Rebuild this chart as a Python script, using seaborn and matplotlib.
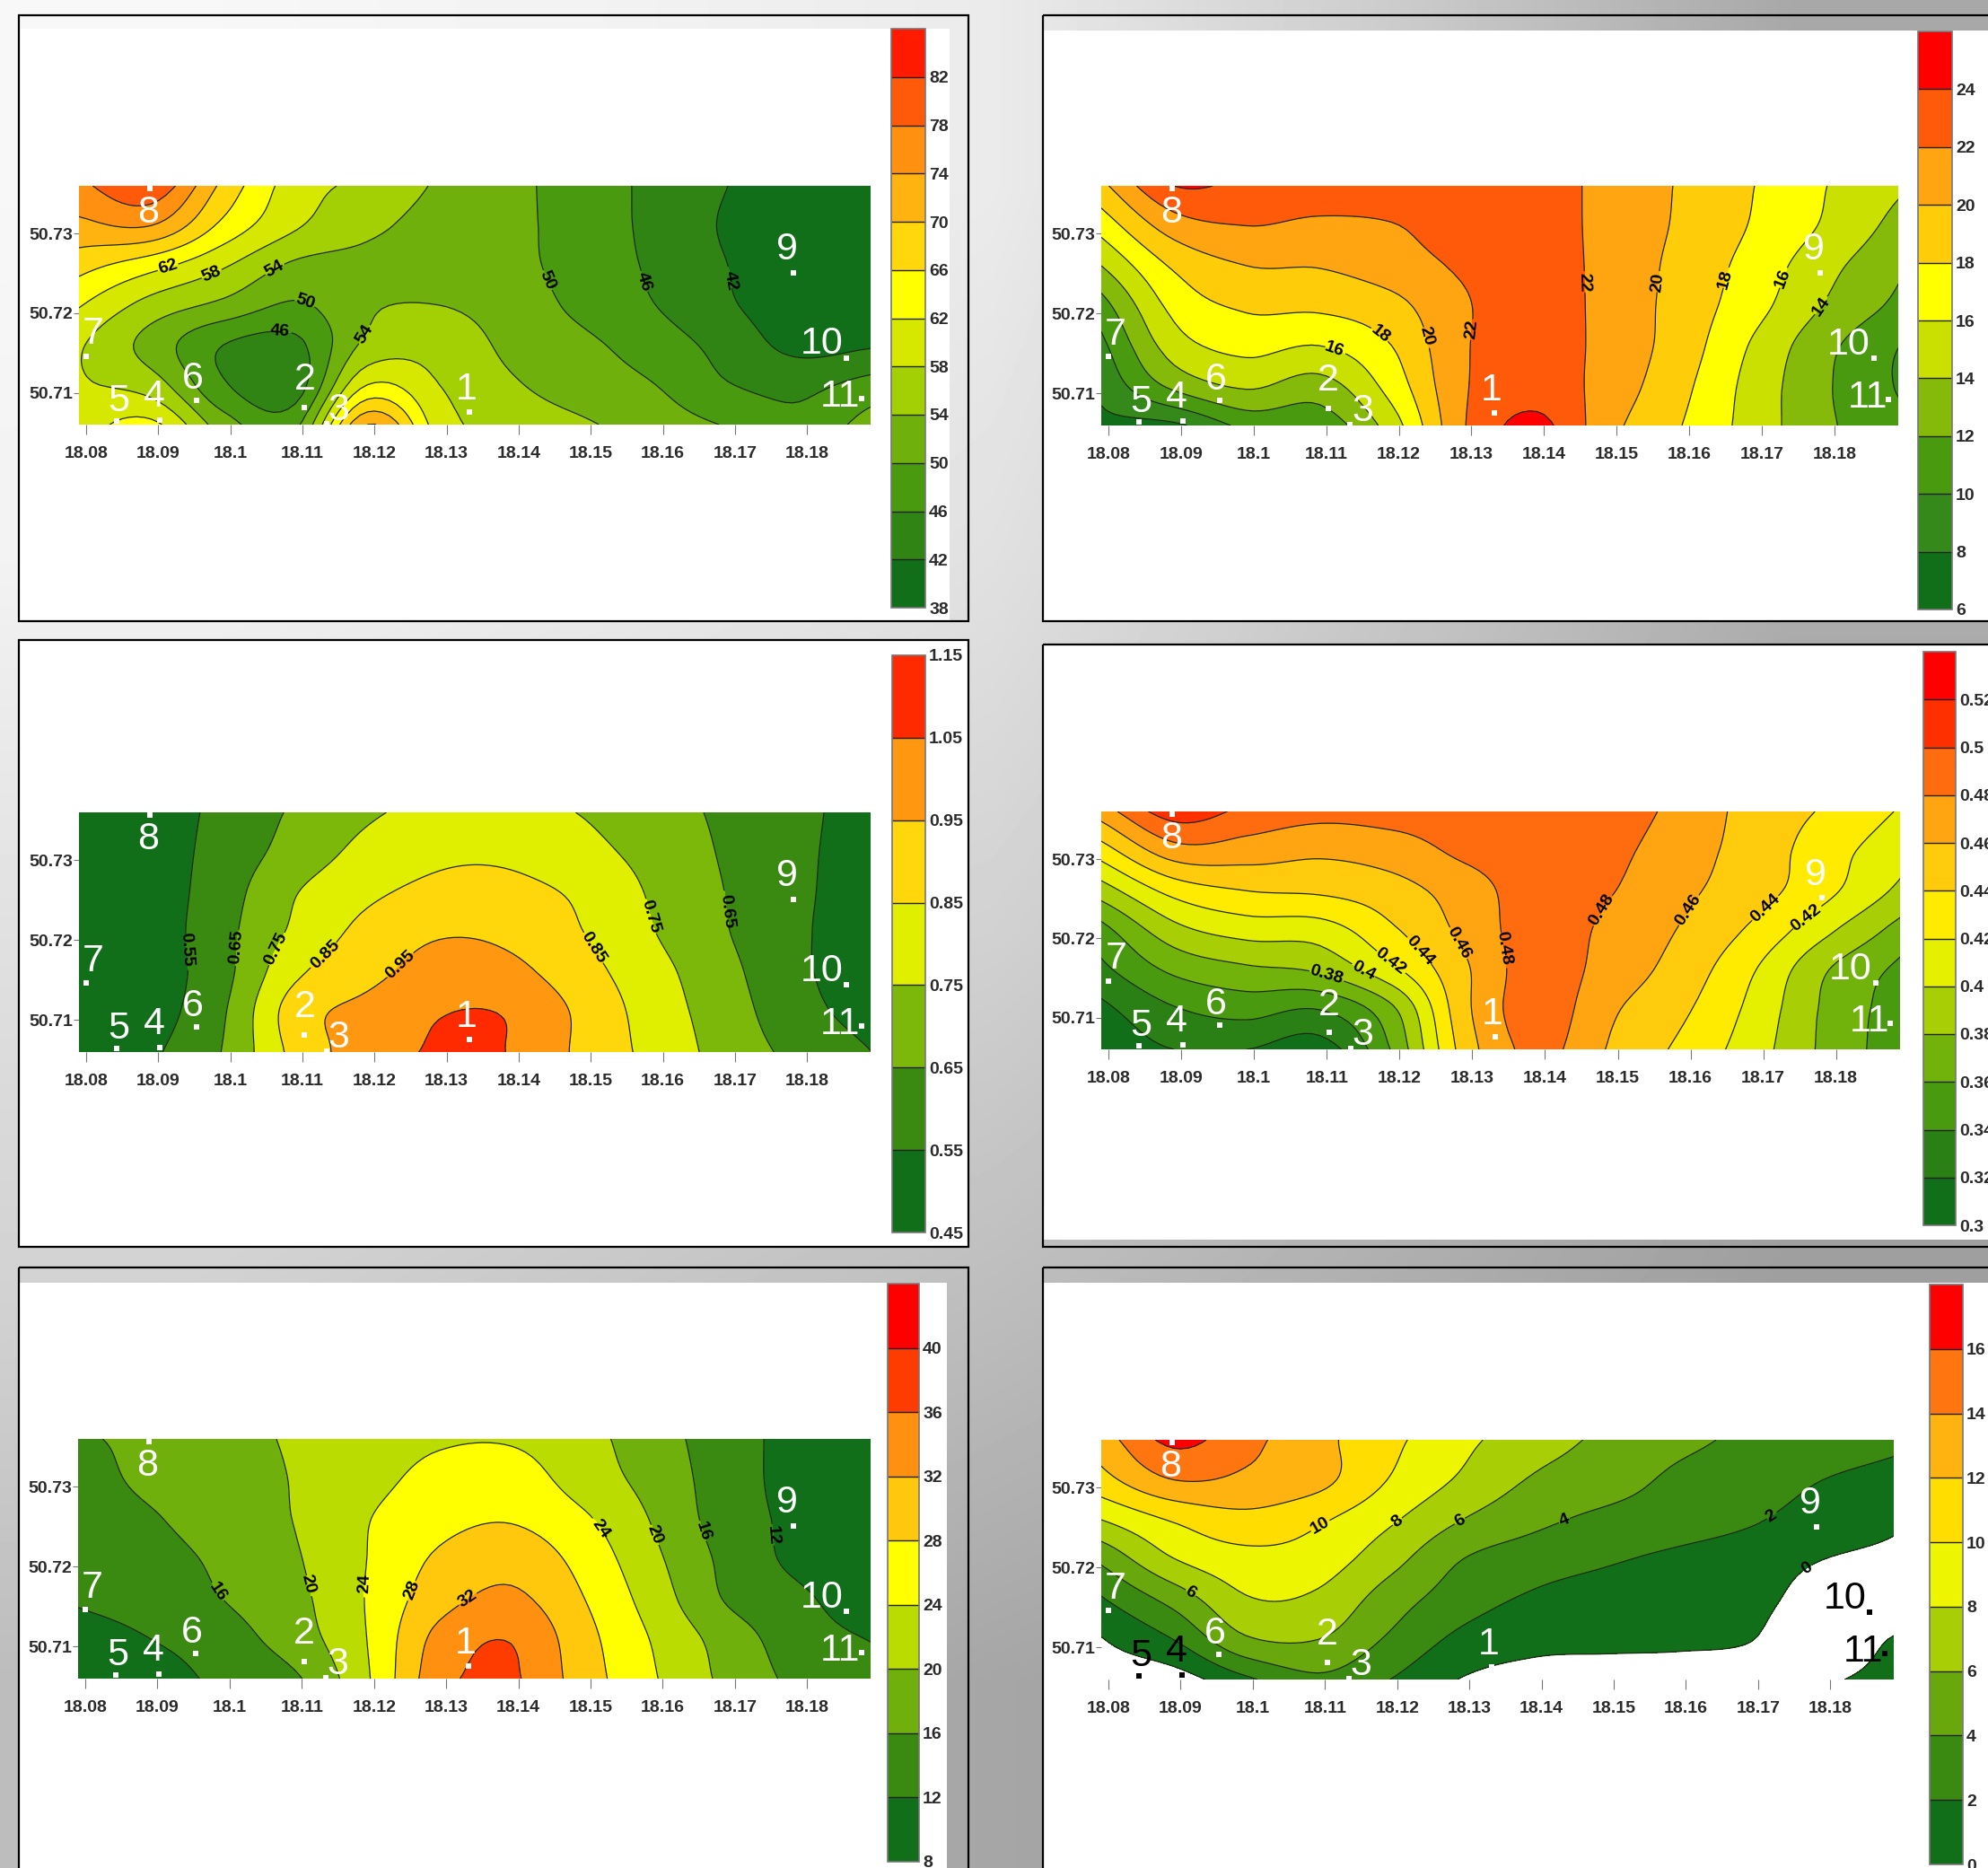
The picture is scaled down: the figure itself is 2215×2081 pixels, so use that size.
import numpy as np
import matplotlib
matplotlib.use('Agg')
import matplotlib.pyplot as plt
from matplotlib.patches import Rectangle
import seaborn as sns

W, H = 2215, 2081

# --- data ---
LON = [18.079, 18.089, 18.099, 18.109, 18.119, 18.129, 18.139, 18.149, 18.159, 18.169, 18.179, 18.189]
LAT_TOP_DOWN = [50.736, 50.731, 50.726, 50.721, 50.716, 50.711, 50.706]

LEVELS_A = [38, 42, 46, 50, 54, 58, 62, 66, 70, 74, 78, 82, 86]
COLORS_A = ['#116f1a', '#2f8414', '#4a9a10', '#6fb00c', '#a3cf05', '#d6e800', '#ffff00', '#ffd70a', '#ffb310',
            '#ff9010', '#ff5a0a', '#ff1a00']
VALUES_A = [
    [77, 81, 69, 60, 57, 53.5, 51, 48, 45, 42, 39.5, 39],
    [73, 74, 65, 58.5, 55, 52.5, 51, 48, 45, 41.5, 39, 38.5],
    [67.5, 63.5, 58.5, 53.3, 52.8, 52, 51, 48.3, 45.3, 42, 39, 38.5],
    [62.3, 56.5, 53, 49.5, 53.5, 54, 52, 49, 46, 42.5, 39.5, 38.5],
    [58.5, 52.5, 46, 45, 55, 56.5, 53, 50.8, 48, 44.5, 40.8, 41.6],
    [58.5, 56, 46.5, 44, 62, 58, 54.5, 52, 50, 46.2, 45, 47.5],
    [60, 63, 52, 49, 74, 60, 56.5, 54.5, 52, 49.7, 47, 52],
]
LEVELS_B = [6, 8, 10, 12, 14, 16, 18, 20, 22, 24, 26]
COLORS_B = ['#116f1a', '#35881a', '#4a9a10', '#85ba0a', '#cae000', '#ffff00', '#ffcc0a', '#ffa512', '#ff5a0a',
            '#ff0000']
VALUES_B = [
    [19.5, 24, 23.5, 23.3, 23.2, 23, 23, 21.3, 19.8, 18, 16, 14.3],
    [16.8, 21, 22, 21.6, 21.9, 23, 23, 21.3, 19.7, 17.8, 15.7, 13.3],
    [14, 18.3, 20, 20.1, 21, 22.3, 23, 21.3, 19.4, 17.2, 14.6, 12.3],
    [11.2, 16.6, 18.3, 18.4, 19.4, 21.8, 23, 21.3, 19.2, 16.7, 13.8, 11.5],
    [9.5, 15, 16.6, 16, 18, 21.8, 23, 21.3, 19, 15.7, 12.5, 10],
    [8.5, 12.5, 14.3, 13.2, 16.8, 21.8, 23.2, 21.1, 18.5, 15.2, 12.2, 9.8],
    [7.5, 7.6, 10.5, 10.7, 15, 21.9, 24.5, 20.6, 18, 15.1, 12.3, 10.6],
]
LEVELS_C = [0.45, 0.55, 0.65, 0.75, 0.85, 0.95, 1.05, 1.15]
COLORS_C = ['#116f1a', '#3a8a12', '#7cb80a', '#e0ef00', '#ffd70a', '#ff9810', '#ff2a00']
VALUES_C = [
    [.47, .50, .577, .663, .735, .78, .78, .745, .689, .63, .57, .51],
    [.47, .50, .59, .69, .78, .83, .83, .78, .713, .637, .566, .51],
    [.47, .50, .606, .745, .83, .875, .875, .83, .734, .646, .564, .51],
    [.47, .50, .62, .77, .88, .94, .925, .85, .75, .653, .561, .51],
    [.47, .50, .62, .83, .92, .99, .975, .885, .781, .676, .564, .51],
    [.47, .51, .64, .90, .98, 1.045, 1.04, .925, .80, .695, .582, .515],
    [.47, .535, .655, .88, 1.0, 1.06, 1.045, .925, .816, .709, .62, .55],
]
LEVELS_D = [0.30, 0.32, 0.34, 0.36, 0.38, 0.40, 0.42, 0.44, 0.46, 0.48, 0.50, 0.52, 0.54]
COLORS_D = ['#116f1a', '#2a8014', '#4a9a10', '#72b30b', '#a8cf05', '#e5f000', '#ffeb00', '#ffcb0c', '#ffa512',
            '#ff6c10', '#ff3000', '#ff0000']
VALUES_D = [
    [.47, .51, .495, .487, .489, .49, .49, .49, .473, .452, .437, .418],
    [.43, .471, .47, .464, .47, .484, .49, .485, .468, .451, .428, .407],
    [.39, .427, .44, .443, .452, .47, .49, .481, .464, .448, .424, .395],
    [.353, .393, .408, .41, .437, .465, .49, .475, .458, .435, .403, .372],
    [.335, .364, .376, .383, .415, .457, .49, .471, .451, .42, .38, .355],
    [.315, .338, .347, .34, .376, .455, .49, .463, .443, .413, .375, .35],
    [.305, .32, .32, .31, .362, .449, .485, .458, .435, .408, .374, .348],
]
LEVELS_E = [8, 12, 16, 20, 24, 28, 32, 36, 40, 44]
COLORS_E = ['#116f1a', '#3a8a12', '#6fb00c', '#bbdc00', '#ffff00', '#ffc80c', '#ff9010', '#ff3c00', '#ff0000']
VALUES_E = [
    [15.5, 17, 18.8, 20.4, 22, 23.5, 23.6, 21.3, 17.6, 13.8, 10.5, 9],
    [14, 17, 18.4, 20.2, 22.7, 25.2, 25.8, 22.2, 18.4, 13.9, 10.5, 9],
    [12.8, 15.5, 18.2, 20.1, 23.8, 26.7, 27.7, 24.6, 19.5, 14, 11, 9],
    [12.5, 14.2, 16.9, 19.6, 24, 28.6, 30.5, 26.6, 20.7, 14.9, 11, 9.2],
    [12.3, 13.5, 16, 18.9, 24.2, 30.4, 32.8, 28.1, 22, 15.6, 12.7, 9.5],
    [10.5, 12, 14.3, 18, 24, 33.2, 35.8, 29.4, 23.5, 18.2, 13.8, 11.8],
    [9.5, 10, 13, 15.4, 23.5, 34.5, 36.5, 30, 24.2, 19, 15, 13.5],
]
LEVELS_F = [0, 2, 4, 6, 8, 10, 12, 14, 16, 18]
COLORS_F = ['#116f1a', '#3a8a12', '#68a80c', '#a8cf05', '#eef500', '#ffdd00', '#ffb310', '#ff7510', '#ff0000']
VALUES_F = [
    [13, 16.5, 14.6, 12.6, 10.5, 8.5, 6.9, 5.6, 4.5, 3.6, 3, 2.4],
    [11.3, 14, 13.6, 12.6, 9.9, 7.7, 5.8, 4.9, 3.6, 3, 2, 1.4],
    [8, 10.2, 11.4, 10.3, 8.3, 6, 4.5, 3.5, 2.9, 2.2, 1.1, .3],
    [4.4, 7.9, 9.3, 9, 6.7, 4, 2.9, 2.2, 1.6, 1, 0, -.5],
    [1.8, 4.7, 7.8, 7.6, 5, 2.9, 1.7, 1.2, 1, .6, -1, -2],
    [-.1, 2, 5.7, 6, 3.7, 1.5, .6, .4, .3, .05, -1.5, .2],
    [-1, -1, 1.6, 3.6, 2, -.1, -.8, -.8, -.8, -1, -.3, .8],
]

STATION_NAMES = ['1', '2', '3', '4', '5', '6', '7', '8', '9', '10', '11']
STATION_LON = [18.1331, 18.1103, 18.1133, 18.0902, 18.0842, 18.0953, 18.0800, 18.0888, 18.1781, 18.1855, 18.1875]
STATION_LAT = [50.7076, 50.7081, 50.7061, 50.7066, 50.7064, 50.7091, 50.7146, 50.7357, 50.7251, 50.7144, 50.7093]
NAME_LON = [18.1327, 18.1103, 18.1150, 18.0894, 18.0845, 18.0948, 18.0810, 18.0886, 18.1772, 18.1820, 18.1846]
NAME_LAT = [50.7104, 50.7116, 50.7078, 50.7095, 50.7089, 50.7117, 50.7174, 50.7326, 50.7280, 50.7161, 50.7095]

LON_TICKS = [18.08, 18.09, 18.10, 18.11, 18.12, 18.13, 18.14, 18.15, 18.16, 18.17, 18.18]
LAT_TICKS = [50.71, 50.72, 50.73]

LABELS_A = [(18.0914, 50.7256), (18.0971, 50.7256), (18.1058, 50.7261), (18.1106, 50.7220), (18.1069, 50.7174),
            (18.1194, 50.7169), (18.1440, 50.7241), (18.1573, 50.7239), (18.1686, 50.7239)]
LABELS_B = [(18.1449, 50.7239), (18.1559, 50.7239), (18.1650, 50.7243), (18.1733, 50.7243), (18.1784, 50.7207),
            (18.1296, 50.7181), (18.1233, 50.7171), (18.1171, 50.7171), (18.1112, 50.7158)]
LABELS_C = [(18.0947, 50.7189), (18.1015, 50.7191), (18.1069, 50.7187), (18.1134, 50.7180), (18.1239, 50.7166),
            (18.1501, 50.7189), (18.1587, 50.7231), (18.1693, 50.7236)]
LABELS_D = [(18.1101, 50.7159), (18.1155, 50.7167), (18.1190, 50.7174), (18.1228, 50.7185), (18.1272, 50.7189),
            (18.1336, 50.7187), (18.1489, 50.7229), (18.1602, 50.7233), (18.1703, 50.7238), (18.1767, 50.7216)]
LABELS_E = [(18.0982, 50.7168), (18.1106, 50.7178), (18.1187, 50.7179), (18.1252, 50.7171), (18.1331, 50.7158),
            (18.1506, 50.7243), (18.1589, 50.7240), (18.1657, 50.7245), (18.1728, 50.7238)]
LABELS_F = [(18.1095, 50.7250), (18.1200, 50.7258), (18.1289, 50.7255), (18.1432, 50.7258), (18.1720, 50.7262),
            (18.1778, 50.7186), (18.0910, 50.7163)]

# background greys, coarse grid over the whole picture
BACK_GREYS = [
    [.97, .95, .92, .80, .66],
    [.95, .92, .88, .78, .68],
    [.88, .85, .82, .74, .64],
    [.82, .78, .74, .68, .62],
    [.74, .70, .65, .62, .60],
]

# --- layout in reference pixels: (left, top, right, bottom) ---
PANELS = [
    dict(values=VALUES_A, levels=LEVELS_A, colors=COLORS_A, labels=LABELS_A, plot=(88, 207, 970, 473),
         bar=(993, 32, 1031, 677), frame=(21, 17, 1079, 692), white=(21, 32, 1058, 692), top_tick=False),
    dict(values=VALUES_B, levels=LEVELS_B, colors=COLORS_B, labels=LABELS_B, plot=(1227, 207, 2115, 474),
         bar=(2137, 35, 2175, 679), frame=(1162, 17, 2240, 692), white=(1162, 34, 2240, 692), top_tick=False),
    dict(values=VALUES_C, levels=LEVELS_C, colors=COLORS_C, labels=LABELS_C, plot=(88, 905, 970, 1172),
         bar=(994, 730, 1031, 1373), frame=(21, 713, 1079, 1389), white=(21, 713, 1079, 1389), top_tick=True),
    dict(values=VALUES_D, levels=LEVELS_D, colors=COLORS_D, labels=LABELS_D, plot=(1227, 904, 2117, 1169),
         bar=(2143, 726, 2179, 1365), frame=(1162, 718, 2240, 1389), white=(1162, 718, 2240, 1381), top_tick=False),
    dict(values=VALUES_E, levels=LEVELS_E, colors=COLORS_E, labels=LABELS_E, plot=(87, 1603, 970, 1870),
         bar=(989, 1430, 1024, 2074), frame=(21, 1412, 1079, 2100), white=(21, 1429, 1055, 2100), top_tick=False),
    dict(values=VALUES_F, levels=LEVELS_F, colors=COLORS_F, labels=LABELS_F, plot=(1227, 1604, 2110, 1871),
         bar=(2150, 1431, 2187, 2077), frame=(1162, 1412, 2240, 2100), white=(1162, 1429, 2240, 2100), top_tick=False,
         black_names=['4', '5', '10', '11']),
]

TICK_FONT = dict(family='Liberation Sans', weight='bold', size=14)


def smooth_column(a, n=10):
    """Catmull-Rom through the read values, only so the isolines draw round."""
    a = np.concatenate([[2 * a[0] - a[1]], a, [2 * a[-1] - a[-2]]])
    out = []
    for i in range(1, len(a) - 2):
        t = np.linspace(0, 1, n, endpoint=False)
        p0, p1, p2, p3 = a[i - 1], a[i], a[i + 1], a[i + 2]
        out.append(0.5 * (2 * p1 + (p2 - p0) * t + (2 * p0 - 5 * p1 + 4 * p2 - p3) * t ** 2
                          + (3 * p1 - p0 - 3 * p2 + p3) * t ** 3))
    out.append([a[-2]])
    return np.concatenate(out)


def place_axes(fig, box):
    left, top, right, bottom = box
    return fig.add_axes([left / W, 1 - bottom / H, (right - left) / W, (bottom - top) / H])


def draw_panel(fig, panel):
    levels = panel['levels']

    z = np.array(panel['values'], dtype=float)[::-1]
    z = np.apply_along_axis(smooth_column, 0, z)
    z = np.apply_along_axis(smooth_column, 1, z)
    lat = np.linspace(LAT_TOP_DOWN[-1], LAT_TOP_DOWN[0], z.shape[0])
    lon = np.linspace(LON[0], LON[-1], z.shape[1])

    ax = place_axes(fig, panel['plot'])
    ax.patch.set_alpha(0)
    cf = ax.contourf(lon, lat, z, levels=levels, colors=panel['colors'])
    cs = ax.contour(lon, lat, z, levels=levels, colors='#1c2a10', linewidths=0.9)
    labels = ax.clabel(cs, levels=levels, fmt='%g', fontsize=14, inline=True, inline_spacing=1,
                       manual=panel['labels'], colors='black')
    for t in labels:
        t.set_fontfamily('Liberation Sans')
        t.set_fontweight('bold')

    ax.set_xlim(LON[0], 18.1888)
    ax.set_ylim(LAT_TOP_DOWN[-1], LAT_TOP_DOWN[0])
    ax.set_xticks(LON_TICKS)
    ax.set_xticklabels(['%g' % round(v, 2) for v in LON_TICKS], **TICK_FONT, color='#2a2a2a')
    ax.set_yticks(LAT_TICKS)
    ax.set_yticklabels(['%g' % v for v in LAT_TICKS], **TICK_FONT, color='#2a2a2a')
    ax.tick_params(axis='x', length=8, width=0.8, color='#777777', pad=9, bottom=True)
    ax.tick_params(axis='y', length=4, width=0.8, color='#777777', pad=1, left=True)
    sns.despine(ax=ax, left=True, bottom=True)

    # stations: dot plus the number above it
    black_names = panel.get('black_names', [])
    for name, x, y, nx, ny in zip(STATION_NAMES, STATION_LON, STATION_LAT, NAME_LON, NAME_LAT):
        c = 'black' if name in black_names else 'white'
        ax.scatter([x], [y], marker='s', s=14, color=c, linewidths=0, clip_on=False, zorder=5)
        ax.text(nx, ny, name, color=c, ha='center', va='center', fontsize=31, family='Liberation Sans', zorder=6)

    # colour bar with one box per level band
    cax = place_axes(fig, panel['bar'])
    cb = fig.colorbar(cf, cax=cax, drawedges=True, spacing='uniform')
    ticks = levels if panel['top_tick'] else levels[:-1]
    cb.set_ticks(ticks)
    cb.set_ticklabels(['%g' % v for v in ticks], **TICK_FONT, color='#2a2a2a')
    cb.ax.tick_params(length=0, pad=3)
    cb.dividers.set_color('#222222')
    cb.dividers.set_linewidth(1.0)
    cb.outline.set_edgecolor('#777777')
    cb.outline.set_linewidth(1.2)


def main():
    sns.set_theme(style='white')
    plt.rcParams['font.family'] = ['Liberation Sans', 'DejaVu Sans']
    fig = plt.figure(figsize=(W / 100, H / 100), dpi=100)

    # grey backdrop, white sheets and black frames
    back = fig.add_axes([0, 0, 1, 1])
    back.imshow(BACK_GREYS, cmap='gray', vmin=0, vmax=1, extent=(0, W, H, 0), aspect='auto', interpolation='bilinear')
    for panel in PANELS:
        l, t, r, b = panel['white']
        back.add_patch(Rectangle((l, t), r - l, b - t, facecolor='white', edgecolor='none'))
        l, t, r, b = panel['frame']
        back.add_patch(Rectangle((l, t), r - l, b - t, facecolor='none', edgecolor='black', linewidth=1.6))
    back.set_xlim(0, W)
    back.set_ylim(H, 0)
    back.axis('off')

    for panel in PANELS:
        draw_panel(fig, panel)

    fig.savefig('out.png', dpi=100)
    plt.close(fig)


if __name__ == '__main__':
    main()
